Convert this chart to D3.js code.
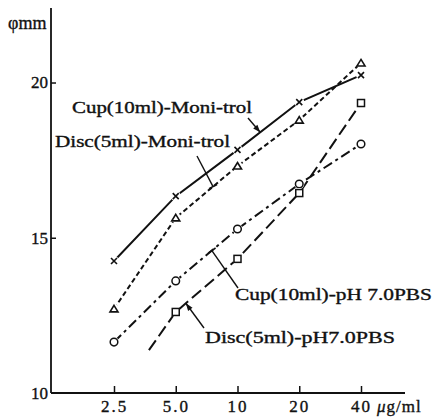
<!DOCTYPE html>
<html><head><meta charset="utf-8">
<script src="https://cdn.jsdelivr.net/npm/d3@7"></script>
<style>body{margin:0;background:#fff}svg{display:block}text{font-family:"Liberation Serif","DejaVu Serif",serif;fill:#111;stroke:#111;stroke-width:0.35px}</style>
</head><body><svg id="c" width="437" height="420"></svg>
<script>
const concentrations = [2.5, 5, 10, 20, 40];
const xTickLabels = ["2.5", "5.0", "10", "20", "40"];
const yTicks = [10, 15, 20];
const cupMoni = [14.25, 16.34, 17.83, 19.37, 20.24];
const discMoni = [12.71, 15.64, 17.31, 18.79, 20.63];
const cupPBS = [11.64, 13.61, 15.28, 16.73, 18.02];
const discPBS = [null, 12.61, 14.32, 16.44, 19.34];
const discPBSStart = [3.7, 11.38]; // line begins without a marker
const seriesNames = ["Cup(10ml)-Moni-trol", "Disc(5ml)-Moni-trol", "Cup(10ml)-pH 7.0PBS", "Disc(5ml)-pH7.0PBS"];

const svg = d3.select("#c");
const x = d3.scaleLog().base(2).domain([2.5, 40]).range([114, 361]);
const y = d3.scaleLinear().domain([10, 22.4]).range([393, 8]);
const X0 = 51, X1 = 405;

// axes
svg.append("line").attr("x1", X0).attr("x2", X0).attr("y1", y(22.4)).attr("y2", y(10)).attr("stroke", "#111").attr("stroke-width", 1.8);
const xa = d3.axisBottom(x).tickValues(concentrations).tickSize(-7).tickFormat((d, i) => xTickLabels[i]);
const gx = svg.append("g").attr("transform", `translate(0,${y(10)})`).call(xa);
gx.select(".domain").remove();
gx.append("line").attr("x1", X0).attr("x2", X1).attr("stroke", "#111").attr("stroke-width", 1.8);
gx.selectAll(".tick line").attr("stroke", "#111").attr("stroke-width", 1.5);
gx.selectAll(".tick text").attr("dy", null).attr("y", 19).attr("font-size", 17).attr("font-family", "Liberation Serif").attr("fill", "#111").attr("letter-spacing", 2);
svg.append("text").attr("x", 377).attr("y", 412).attr("font-size", 17).attr("letter-spacing", 1)
  .html('<tspan font-style="italic">μ</tspan>g/ml');

const ya = d3.axisLeft(y).tickValues(yTicks).tickSize(-5).tickPadding(4).tickFormat(d3.format("d"));
const gy = svg.append("g").attr("transform", `translate(${X0},0)`).call(ya);
gy.select(".domain").remove();
gy.selectAll(".tick line").attr("stroke", "#111").attr("stroke-width", 1.5).attr("display", d => d === 10 ? "none" : null);
gy.selectAll(".tick text").attr("x", -3).attr("font-size", 17).attr("font-family", "Liberation Serif").attr("fill", "#111");
svg.append("text").attr("x", 8).attr("y", 29).attr("font-size", 18).text("φmm");

// series
const series = [
  {vals: cupMoni, dash: null, marker: "x"},
  {vals: discMoni, dash: "5,3", marker: "tri"},
  {vals: cupPBS, dash: "10,4,3,4", marker: "circ"},
  {vals: discPBS, dash: "12,5", marker: "sq", start: discPBSStart}
];
const line = d3.line().x(d => x(d[0])).y(d => y(d[1]));
series.forEach(s => {
  s.pts = concentrations.map((c, i) => [c, s.vals[i]]).filter(d => d[1] != null);
  s.linePts = s.start ? [s.start, ...s.pts] : s.pts;
});
series.forEach(s => {
  svg.append("path").attr("d", line(s.linePts)).attr("fill", "none").attr("stroke", "#111")
    .attr("stroke-width", 2).attr("stroke-dasharray", s.dash);
});
series.forEach(s => {
  const g = svg.append("g");
  s.pts.forEach(p => {
    const cx = x(p[0]), cy = y(p[1]);
    g.append("circle").attr("cx", cx).attr("cy", cy).attr("r", 5).attr("fill", "#fff");
    if (s.marker === "x") {
      g.append("path").attr("d", `M${cx-3},${cy-3}L${cx+3},${cy+3}M${cx+3},${cy-3}L${cx-3},${cy+3}`).attr("stroke", "#111").attr("stroke-width", 1.6);
    } else if (s.marker === "tri") {
      g.append("path").attr("d", `M${cx},${cy-3.5}L${cx+4},${cy+3}L${cx-4},${cy+3}Z`).attr("fill", "#fff").attr("stroke", "#111").attr("stroke-width", 1.6);
    } else if (s.marker === "circ") {
      g.append("circle").attr("cx", cx).attr("cy", cy).attr("r", 3.8).attr("fill", "#fff").attr("stroke", "#111").attr("stroke-width", 1.5);
    } else {
      g.append("rect").attr("x", cx-3.5).attr("y", cy-3.5).attr("width", 7).attr("height", 7).attr("fill", "#fff").attr("stroke", "#111").attr("stroke-width", 1.5);
    }
  });
});

// point on a series at concentration c (log interpolation)
function onSeries(s, c) {
  const p = s.linePts;
  for (let i = 0; i < p.length - 1; i++) {
    if (c >= p[i][0] && c <= p[i+1][0]) {
      const t = (Math.log(c) - Math.log(p[i][0])) / (Math.log(p[i+1][0]) - Math.log(p[i][0]));
      return [x(c), y(p[i][1] + t * (p[i+1][1] - p[i][1]))];
    }
  }
}

// labels
const labels = [
  {text: seriesNames[0], x: 72, y: 113, w: 180, from: [248, 118], c: 12.9, s: 0, end: "arrow"},
  {text: seriesNames[1], x: 55, y: 147, w: 175, from: [197, 156], c: 7.6, s: 1, end: "bar"},
  {text: seriesNames[2], x: 235, y: 300, w: 197, from: [238, 288], c: 7.5, s: 2, end: "bar"},
  {text: seriesNames[3], x: 205, y: 343, w: 190, from: [204, 328], c: 5.6, s: 3, end: "arrow"}
];
labels.forEach(l => {
  svg.append("text").attr("x", l.x).attr("y", l.y).attr("font-size", 16)
    .attr("textLength", l.w).attr("lengthAdjust", "spacingAndGlyphs").text(l.text);
  const [tx, ty] = onSeries(series[l.s], l.c);
  const [fx, fy] = l.from;
  svg.append("line").attr("x1", fx).attr("y1", fy).attr("x2", tx).attr("y2", ty).attr("stroke", "#111").attr("stroke-width", 1.4);
  const ang = Math.atan2(ty - fy, tx - fx);
  if (l.end === "bar") {
    const px = -Math.sin(ang) * 4.5, py = Math.cos(ang) * 4.5;
    svg.append("line").attr("x1", tx - px).attr("y1", ty - py).attr("x2", tx + px).attr("y2", ty + py).attr("stroke", "#111").attr("stroke-width", 1.6);
  } else {
    const a = 8, w = 0.35;
    svg.append("path").attr("d", `M${tx},${ty}L${tx - a*Math.cos(ang - w)},${ty - a*Math.sin(ang - w)}L${tx - a*Math.cos(ang + w)},${ty - a*Math.sin(ang + w)}Z`).attr("fill", "#111");
  }
});
</script></body></html>
